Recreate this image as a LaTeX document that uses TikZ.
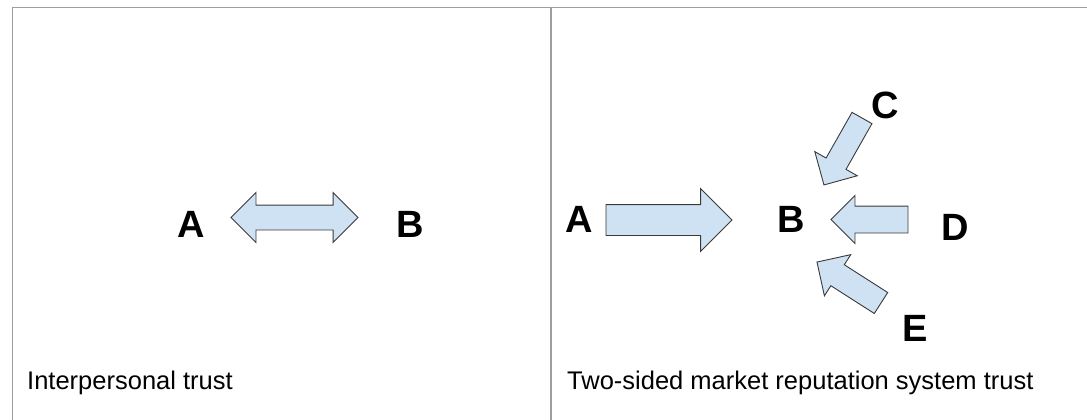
\documentclass[tikz,border=0pt]{standalone}
\usepackage{fontspec}
\setmainfont{Liberation Sans}
\usetikzlibrary{shapes.arrows}
\definecolor{arrowfill}{HTML}{CFE2F3}
\definecolor{arrowline}{HTML}{3A3A3A}
\definecolor{frameline}{HTML}{9E9E9E}
\tikzset{
  letter/.style={font=\fontsize{38}{40}\selectfont\bfseries, inner sep=0pt},
  caption/.style={font=\fontsize{25.5}{28}\selectfont, anchor=base west, inner sep=0pt},
  blockarrow/.style={draw=arrowline, fill=arrowfill, line width=0.9pt,
    inner xsep=0pt, minimum width=0pt, outer sep=0pt},
}
\begin{document}
\begin{tikzpicture}[x=1pt, y=-1pt]
  \useasboundingbox (0,0) rectangle (1087,420);

  % Marco de la tabla
  \draw[frameline, line width=1.6pt] (12.5,420) -- (12.5,7.5) -- (1087,7.5);
  \draw[frameline, line width=1.6pt] (551,7.5) -- (551,420);

  % Confianza interpersonal
  \node[letter] (aL) at (191,224) {A};
  \node[letter] (bL) at (410,224) {B};
  \node[blockarrow, double arrow, inner ysep=12pt, double arrow head extend=12.5pt,
        minimum height=127pt] (arrL) at (294.5,217.5) {};
  \node[caption] (capL) at (27,389) {Interpersonal trust};

  % Sistema de reputacion
  \node[letter] (aR) at (579,219) {A};
  \node[letter] (bR) at (791,219) {B};
  \node[letter] (c) at (885,105) {C};
  \node[letter] (d) at (955,227) {D};
  \node[letter] (e) at (915,328) {E};

  \node[blockarrow, single arrow, inner ysep=15pt, single arrow head extend=16pt,
        minimum height=126pt, anchor=tail] (arrA) at (606,220) {};
  \node[blockarrow, single arrow, inner ysep=11pt, single arrow head extend=13pt,
        minimum height=77pt, rotate=240.4, anchor=tail] (arrC) at (862,118) {};
  \node[blockarrow, single arrow, inner ysep=13pt, single arrow head extend=10.5pt,
        minimum height=77pt, rotate=180, anchor=tail] (arrD) at (908,219.5) {};
  \node[blockarrow, single arrow, inner ysep=12pt, single arrow head extend=12pt,
        minimum height=76pt, rotate=147.4, anchor=tail] (arrE) at (881,303) {};

  \node[caption] (capR) at (567,389) {Two-sided market reputation system trust};
\end{tikzpicture}
\end{document}
